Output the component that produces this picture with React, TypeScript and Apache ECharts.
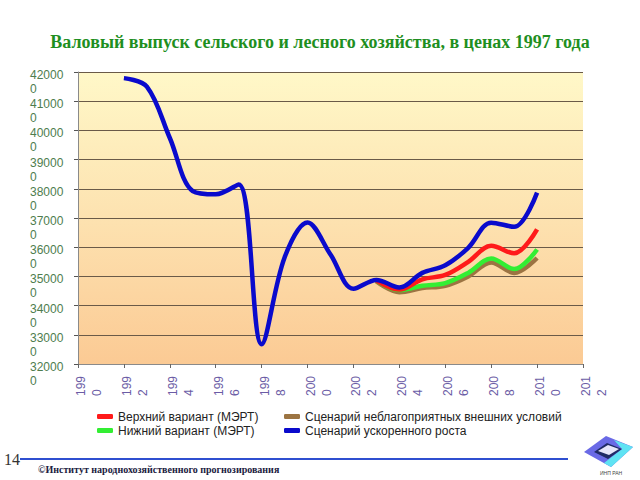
import React, { useEffect, useRef } from "react";
import * as echarts from "echarts";

const years = ["1990","1991","1992","1993","1994","1995","1996","1997","1998","1999","2000","2001","2002","2003","2004","2005","2006","2007","2008","2009","2010","2011","2012"];

const blueAccel = [null, null, 417900, 415000, 397400, 379200, 378100, 381500, 326800, 356500, 368500, 357500, 345800, 348800, 346200, 351200, 353800, 359800, 368400, 367000, 378700, null, null];
const redUpper = [null, null, null, null, null, null, null, null, null, null, null, null, null, 348600, 345500, 349000, 350500, 355000, 360500, 357900, 366100, null, null];
const greenLower = [null, null, null, null, null, null, null, null, null, null, null, null, null, 348500, 345300, 346800, 347700, 351200, 356100, 352500, 359200, null, null];
const brownAdverse = [null, null, null, null, null, null, null, null, null, null, null, null, null, 348300, 344600, 346000, 346800, 350000, 354800, 351200, 356300, null, null];

const nameRed = "Верхний вариант (МЭРТ)";
const nameGreen = "Нижний вариант (МЭРТ)";
const nameBrown = "Сценарий неблагоприятных внешних условий";
const nameBlue = "Сценарий ускоренного роста";

const titleText = "Валовый выпуск сельского и лесного хозяйства, в ценах 1997 года";
const footerText = "©Институт народнохозяйственного прогнозирования";

export default function App() {
  const ref = useRef<HTMLDivElement>(null);
  useEffect(() => {
    if (!ref.current) return;
    const chart = echarts.init(ref.current, null, { renderer: "svg" });
    const mk = (name: string, data: (number | null)[], color: string, z: number) => ({
      name,
      type: "line",
      data,
      smooth: 0.35,
      showSymbol: false,
      symbol: "none",
      connectNulls: false,
      z,
      lineStyle: { color, width: 4.5 },
      itemStyle: { color },
    });
    const xl = "#6b5ca5";
    const yl = "#4e7d4e";
    chart.setOption({
      animation: false,
      title: {
        text: titleText,
        left: "center",
        top: 28,
        textStyle: { fontFamily: "Liberation Serif", fontWeight: "bold", fontSize: 18, color: "#1f8f1f" },
      },
      legend: [
        {
          orient: "vertical",
          left: 92,
          top: 405,
          icon: "roundRect",
          itemWidth: 16,
          itemHeight: 5,
          itemGap: 1,
          data: [nameRed, nameGreen],
          textStyle: { fontFamily: "Liberation Sans", fontSize: 12, color: "#222", lineHeight: 13 },
        },
        {
          orient: "vertical",
          left: 279,
          top: 405,
          icon: "roundRect",
          itemWidth: 16,
          itemHeight: 5,
          itemGap: 1,
          data: [nameBrown, nameBlue],
          textStyle: { fontFamily: "Liberation Sans", fontSize: 12, color: "#222", lineHeight: 13 },
        },
      ],
      grid: {
        left: 78,
        right: 57,
        top: 72,
        bottom: 116,
        show: true,
        borderWidth: 0,
        backgroundColor: {
          type: "linear",
          x: 0, y: 0, x2: 0, y2: 1,
          colorStops: [
            { offset: 0, color: "#fff8c8" },
            { offset: 0.5, color: "#fde2b0" },
            { offset: 1, color: "#fbca94" },
          ],
        },
      },
      xAxis: {
        type: "category",
        data: years,
        boundaryGap: false,
        axisLine: { lineStyle: { color: "#8a8a8a", width: 1 } },
        axisTick: { show: true, interval: 1, length: 4, lineStyle: { color: "#666" } },
        axisLabel: {
          interval: 1,
          rotate: 90,
          align: "left",
          verticalAlign: "top",
          margin: 32,
          showMinLabel: true,
          showMaxLabel: true,
          hideOverlap: false,
          fontFamily: "Liberation Sans",
          fontSize: 12,
          color: xl,
          formatter: (s: string) => "{a|" + s.slice(0, 3) + "}\n{b|" + s.slice(3) + "}",
          rich: {
            a: { fontFamily: "Liberation Sans", fontSize: 12, color: xl, lineHeight: 6 },
            b: { fontFamily: "Liberation Sans", fontSize: 12, color: xl, lineHeight: 26 },
          },
        },
        splitLine: { show: false },
      },
      yAxis: {
        type: "value",
        min: 320000,
        max: 420000,
        interval: 10000,
        axisLine: { show: true, lineStyle: { color: "#8a8a8a", width: 1 } },
        axisTick: { show: true, length: 4, lineStyle: { color: "#555" } },
        axisLabel: {
          align: "left",
          verticalAlign: "top",
          margin: 48,
          showMinLabel: true,
          showMaxLabel: true,
          hideOverlap: false,
          fontFamily: "Liberation Sans",
          fontSize: 12,
          color: yl,
          formatter: (v: number) => {
            const s = String(v);
            return "{a|" + s.slice(0, 5) + "}\n{b|" + s.slice(5) + "}";
          },
          rich: {
            a: { fontFamily: "Liberation Sans", fontSize: 12, color: yl, lineHeight: 6 },
            b: { fontFamily: "Liberation Sans", fontSize: 12, color: yl, lineHeight: 22 },
          },
        },
        splitLine: { show: true, lineStyle: { color: "#6a5a48", width: 1 } },
      },
      series: [
        mk(nameBrown, brownAdverse, "#9c7442", 1),
        mk(nameGreen, greenLower, "#33ee33", 2),
        mk(nameRed, redUpper, "#ff1a1a", 3),
        mk(nameBlue, blueAccel, "#0a0acc", 4),
      ],
      graphic: [
        { type: "text", left: 4, top: 451, style: { text: "14", fontFamily: "Liberation Serif", fontSize: 16, fill: "#333" } },
        { type: "line", shape: { x1: 20, y1: 459, x2: 568, y2: 459 }, style: { stroke: "#2f4fd0", lineWidth: 2 } },
        { type: "text", left: 38, top: 464, style: { text: footerText, fontFamily: "Liberation Serif", fontWeight: "bold", fontSize: 10, fill: "#202040" } },
        { type: "polygon", shape: { points: [[584, 452], [606, 436], [633, 447], [611, 467]] }, style: { fill: "#6a6ae6" } },
        { type: "polygon", shape: { points: [[614, 440], [633, 447], [611, 467], [604, 463], [622, 449]] }, style: { fill: "#5fe3f3" } },
        { type: "polygon", shape: { points: [[594, 452], [607, 443], [622, 449], [608, 459]] }, style: { fill: "#1f2a66" } },
        { type: "polygon", shape: { points: [[598, 451], [608, 445], [619, 449], [609, 455]] }, style: { fill: "#e6e6fa" } },
        { type: "text", left: 600, top: 470, style: { text: "ИНП РАН", fontFamily: "Liberation Sans", fontSize: 5, fill: "#444" } },
      ],
    });
    return () => chart.dispose();
  }, []);
  return <div ref={ref} style={{ width: 640, height: 480, position: "absolute", left: 0, top: 0 }} />;
}
